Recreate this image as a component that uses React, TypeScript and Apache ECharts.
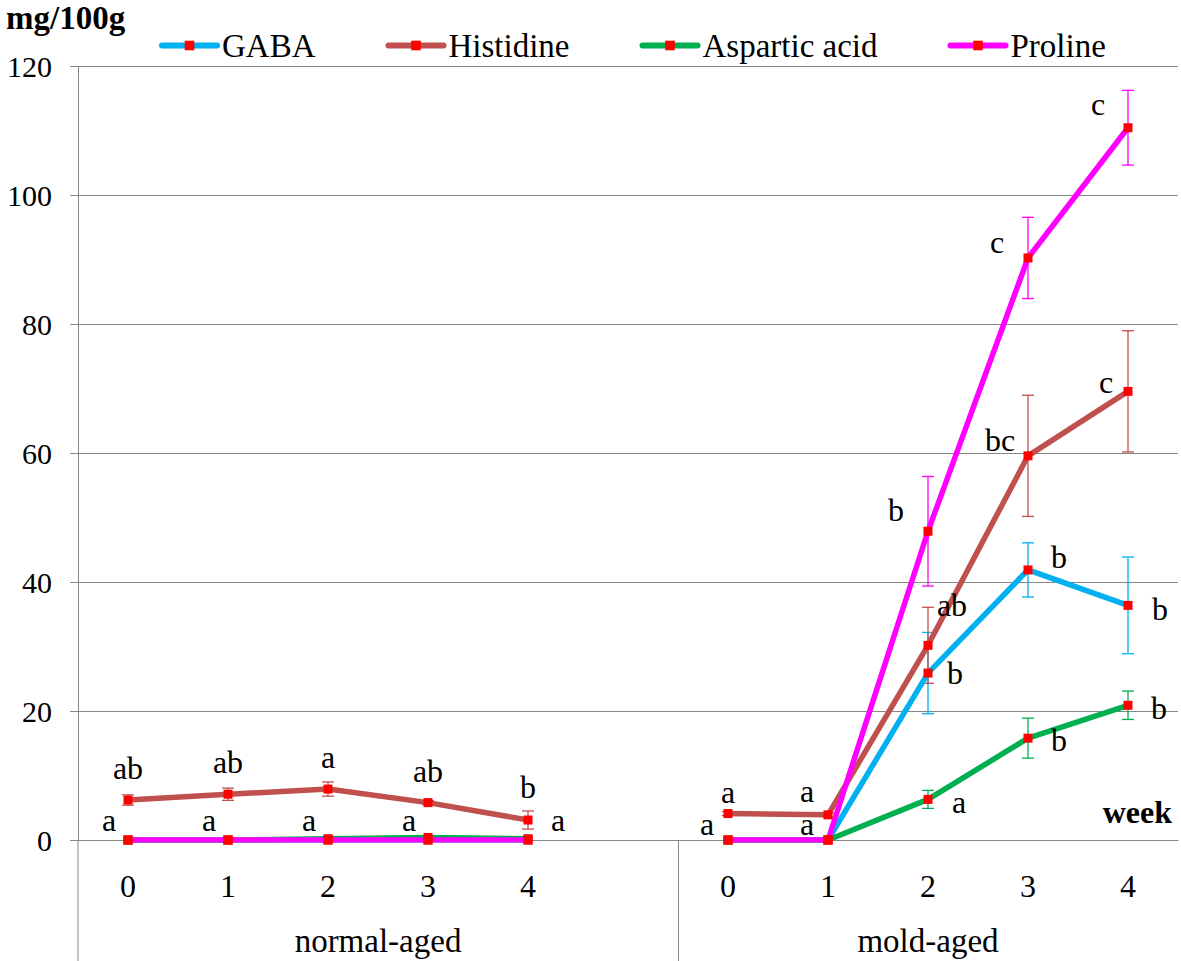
import React, { useEffect, useRef } from 'react';
import * as echarts from 'echarts';

// ---------- data ----------
const weekLabels = ['0', '1', '2', '3', '4', '', '0', '1', '2', '3', '4'];
const groupLabels = ['normal-aged', 'mold-aged'];
const seriesNames = ['GABA', 'Histidine', 'Aspartic acid', 'Proline'];
const seriesColors = ['#00B0F0', '#C0504D', '#00B050', '#FF00FF'];
const yTicks = [0, 20, 40, 60, 80, 100, 120];

const gabaValues = [0, 0, 0, 0, 0, null, 0, 0, 25.9, 41.9, 36.4];
const gabaErrors = [0, 0, 0, 0, 0, null, 0, 0, 6.3, 4.2, 7.5];
const histidineValues = [6.2, 7.1, 7.9, 5.8, 3.1, null, 4.1, 3.9, 30.2, 59.6, 69.6];
const histidineErrors = [0.8, 0.95, 1.1, 0.3, 1.4, null, 0.3, 0.3, 5.9, 9.4, 9.4];
const asparticValues = [0, 0, 0.2, 0.4, 0.2, null, 0, 0, 6.3, 15.8, 20.9];
const asparticErrors = [0, 0, 0, 0, 0, null, 0, 0, 1.4, 3.1, 2.2];
const prolineValues = [0, 0, 0, 0, 0, null, 0, 0, 47.9, 90.3, 110.5];
const prolineErrors = [0, 0, 0, 0, 0, null, 0, 0, 8.5, 6.3, 5.8];

const gabaLetters = ['a', 'a', 'a', 'a', 'a', null, 'a', 'a', 'b', 'b', 'b'];
const histidineLetters = ['ab', 'ab', 'a', 'ab', 'b', null, 'a', 'a', 'ab', 'bc', 'c'];
const asparticLetters = [null, null, null, null, null, null, null, null, 'a', 'b', 'b'];
const prolineLetters = [null, null, null, null, null, null, null, null, 'b', 'c', 'c'];

// ---------- letter placement (pixel offsets from the point) ----------
const gabaLetterOffsets = [[-19, -20], [-19, -20], [-19, -20], [-19, -20], [30, -20], null, [-21, -16], [-21, -16], [27, 0], [31, -13], [32, 4]];
const histidineLetterOffsets = [[0, -32], [0, -32], [0, -32], [0, -32], [0, -33], null, [0, -22], [-21, -24], [24, -40], [-28, -16], [-22, -9]];
const asparticLetterOffsets = [null, null, null, null, null, null, null, null, [31, 3], [31, 2], [31, 3]];
const prolineLetterOffsets = [null, null, null, null, null, null, null, null, [-32, -21], [-31, -16], [-30, -24]];

const FONT = "'Liberation Serif', 'Times New Roman', serif";
const AXIS_GREY = '#868686';

const allValues = [gabaValues, histidineValues, asparticValues, prolineValues];
const allErrors = [gabaErrors, histidineErrors, asparticErrors, prolineErrors];
const allLetters = [gabaLetters, histidineLetters, asparticLetters, prolineLetters];
const allOffsets = [gabaLetterOffsets, histidineLetterOffsets, asparticLetterOffsets, prolineLetterOffsets];

function buildOption() {
  const series: any[] = [];

  // error bars
  seriesNames.forEach((name, s) => {
    const data: any[] = [];
    allValues[s].forEach((v, i) => {
      const e = allErrors[s][i];
      if (v === null || e === null || !e) return;
      data.push([i, v - e, v + e]);
    });
    series.push({
      type: 'custom',
      name: name + ' error',
      z: 1,
      silent: true,
      data,
      renderItem: (params: any, api: any) => {
        const idx = api.value(0);
        const lo = api.coord([idx, api.value(1)]);
        const hi = api.coord([idx, api.value(2)]);
        const half = 6;
        const style = { stroke: seriesColors[s], lineWidth: 1.3 };
        return {
          type: 'group',
          children: [
            { type: 'line', shape: { x1: lo[0], y1: lo[1], x2: hi[0], y2: hi[1] }, style },
            { type: 'line', shape: { x1: lo[0] - half, y1: lo[1], x2: lo[0] + half, y2: lo[1] }, style },
            { type: 'line', shape: { x1: hi[0] - half, y1: hi[1], x2: hi[0] + half, y2: hi[1] }, style },
          ],
        };
      },
    });
  });

  // lines
  seriesNames.forEach((name, s) => {
    series.push({
      type: 'line',
      name,
      z: 2,
      data: allValues[s],
      connectNulls: false,
      symbol: 'rect',
      symbolSize: 9,
      showAllSymbol: true,
      itemStyle: { color: '#FF0000' },
      lineStyle: { color: seriesColors[s], width: 5.5, cap: 'round', join: 'round' },
      emphasis: { disabled: true },
    });
  });

  // letters
  seriesNames.forEach((name, s) => {
    const entries: any[] = [];
    allLetters[s].forEach((t, i) => {
      if (!t) return;
      const off = allOffsets[s][i] || [0, 0];
      entries.push({ i, v: allValues[s][i], t, dx: off[0], dy: off[1] });
    });
    series.push({
      type: 'custom',
      name: name + ' letters',
      z: 3,
      silent: true,
      data: entries.map((e) => [e.i, e.v]),
      renderItem: (params: any, api: any) => {
        const e = entries[params.dataIndex];
        const p = api.coord([api.value(0), api.value(1)]);
        return {
          type: 'text',
          x: p[0] + e.dx,
          y: p[1] + e.dy,
          style: {
            text: e.t,
            fill: '#000',
            fontFamily: FONT,
            fontSize: 32,
            align: 'center',
            verticalAlign: 'middle',
          },
        };
      },
    });
  });

  return {
    animation: false,
    backgroundColor: '#ffffff',
    textStyle: { fontFamily: FONT },
    title: {
      text: 'mg/100g',
      left: 6,
      top: 1,
      padding: 0,
      textStyle: { fontFamily: FONT, fontSize: 33, fontWeight: 'bold', color: '#000' },
    },
    legend: {
      data: seriesNames,
      left: 159,
      top: 29,
      padding: 0,
      itemWidth: 55,
      itemHeight: 12,
      itemGap: 70,
      selectedMode: false,
      lineStyle: { width: 6, cap: 'round' },
      textStyle: { fontFamily: FONT, fontSize: 33, color: '#000' },
    },
    grid: { left: 78, right: 3, top: 66.5, bottom: 121, outerBoundsMode: 'none' },
    xAxis: {
      type: 'category',
      data: weekLabels,
      boundaryGap: true,
      axisLine: { show: true, onZero: true, lineStyle: { color: AXIS_GREY, width: 1 } },
      axisTick: { show: false },
      axisLabel: { fontFamily: FONT, fontSize: 32, color: '#000', margin: 30, interval: 0 },
      splitLine: { show: false },
    },
    yAxis: {
      type: 'value',
      min: yTicks[0],
      max: yTicks[yTicks.length - 1],
      interval: 20,
      axisLine: { show: true, lineStyle: { color: AXIS_GREY, width: 1 } },
      axisTick: { show: true, length: 8, lineStyle: { color: AXIS_GREY } },
      axisLabel: { fontFamily: FONT, fontSize: 30, color: '#000', margin: 26 },
      splitLine: { show: true, lineStyle: { color: AXIS_GREY, width: 1 } },
    },
    graphic: [
      { type: 'line', shape: { x1: 78, y1: 840, x2: 78, y2: 961 }, style: { stroke: AXIS_GREY, lineWidth: 1 } },
      { type: 'line', shape: { x1: 678.5, y1: 840, x2: 678.5, y2: 961 }, style: { stroke: AXIS_GREY, lineWidth: 1 } },
      {
        type: 'text', x: 378, y: 941,
        style: { text: groupLabels[0], fontFamily: FONT, fontSize: 33, fill: '#000', align: 'center', verticalAlign: 'middle' },
      },
      {
        type: 'text', x: 928, y: 941,
        style: { text: groupLabels[1], fontFamily: FONT, fontSize: 33, fill: '#000', align: 'center', verticalAlign: 'middle' },
      },
      {
        type: 'text', x: 1172, y: 812,
        style: { text: 'week', fontFamily: FONT, fontSize: 32, fontWeight: 'bold', fill: '#000', align: 'right', verticalAlign: 'middle' },
      },
    ],
    series,
  };
}

export default function App() {
  const ref = useRef<HTMLDivElement>(null);
  useEffect(() => {
    if (!ref.current) return;
    const chart = echarts.init(ref.current, undefined, { renderer: 'svg' });
    chart.setOption(buildOption() as any);
    return () => chart.dispose();
  }, []);
  return (
    <div
      ref={ref}
      style={{ position: 'absolute', left: 0, top: 0, width: 1181, height: 961, background: '#fff' }}
    />
  );
}
